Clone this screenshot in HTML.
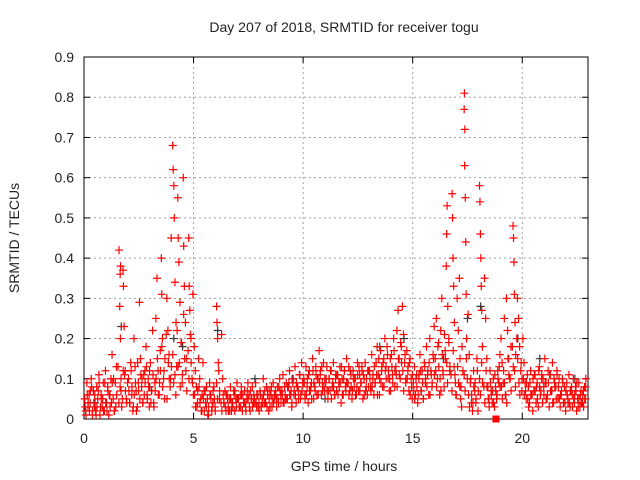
<!DOCTYPE html>
<html><head><meta charset="utf-8"><style>
html,body{margin:0;padding:0;background:#fff;}
svg{display:block;font-family:"Liberation Sans",sans-serif;}
</style></head><body>
<svg id="chart" width="640" height="480" viewBox="0 0 640 480" xmlns="http://www.w3.org/2000/svg">
<rect width="640" height="480" fill="#fff"/>
<text x="344" y="32" font-size="14" text-anchor="middle" fill="#222">Day 207 of 2018, SRMTID for receiver togu</text>
<text x="344" y="471" font-size="14" text-anchor="middle" fill="#222">GPS time / hours</text>
<text x="19" y="238" font-size="14" text-anchor="middle" fill="#222" transform="rotate(-90 19 238)">SRMTID / TECUs</text>
<g id="grid"></g>
<g id="axes"></g>
<g id="marks"></g>
</svg>
<script>
const xTicks=[0,5,10,15,20];
const yTicks=[0,0.1,0.2,0.3,0.4,0.5,0.6,0.7,0.8,0.9];
const yTickLabels=["0","0.1","0.2","0.3","0.4","0.5","0.6","0.7","0.8","0.9"];
const hours=[
0.03,0.08,0.13,0.18,0.23,0.28,0.33,0.38,0.43,0.48,
0.53,0.58,0.63,0.68,0.73,0.78,0.83,0.88,0.93,0.98,
1.03,1.08,1.13,1.18,1.23,1.28,1.33,1.38,1.43,1.48,
1.60,1.63,1.66,1.69,1.72,1.65,1.67,1.78,1.80,1.83,1.88,1.93,
2.03,2.08,2.13,2.18,2.23,2.28,2.33,2.38,2.43,2.48,
2.53,2.58,2.63,2.68,2.73,2.78,2.83,2.88,2.93,2.98,
3.03,3.08,3.13,3.18,3.23,3.28,3.33,3.38,3.43,3.48,
3.53,3.55,3.58,3.63,3.68,3.78,3.83,3.88,3.93,3.98,
4.05,4.07,4.10,4.12,4.15,4.20,4.23,4.28,4.30,4.33,4.38,4.43,4.48,
4.53,4.55,4.58,4.63,4.68,4.78,4.80,4.83,4.88,4.93,4.97,
5.03,5.08,5.13,5.18,5.23,5.28,5.33,5.38,5.43,5.48,
5.53,5.58,5.63,5.68,5.73,5.78,5.83,5.88,5.93,5.98,
6.05,6.07,6.10,6.13,6.18,6.28,6.33,6.38,6.43,6.48,
6.53,6.58,6.63,6.68,6.73,6.78,6.83,6.88,6.93,6.98,
7.03,7.08,7.13,7.18,7.23,7.28,7.33,7.38,7.43,7.48,
7.53,7.58,7.63,7.68,7.73,7.78,7.83,7.88,7.93,7.98,
8.03,8.08,8.13,8.18,8.23,8.28,8.33,8.38,8.43,8.48,
8.53,8.58,8.63,8.68,8.73,8.78,8.83,8.88,8.93,8.98,
9.03,9.08,9.13,9.18,9.23,9.28,9.33,9.38,9.43,9.48,
9.53,9.58,9.63,9.68,9.73,9.78,9.83,9.88,9.93,9.98,
10.03,10.08,10.13,10.18,10.23,10.28,10.33,10.38,10.43,10.48,
10.53,10.58,10.63,10.68,10.73,10.78,10.83,10.88,10.93,10.98,
11.03,11.08,11.13,11.18,11.23,11.28,11.33,11.38,11.43,11.48,
11.53,11.58,11.63,11.68,11.73,11.78,11.83,11.88,11.93,11.98,
12.03,12.08,12.13,12.18,12.23,12.28,12.33,12.38,12.43,12.48,
12.53,12.58,12.63,12.68,12.73,12.78,12.83,12.88,12.93,12.98,
13.03,13.08,13.13,13.18,13.23,13.28,13.33,13.38,13.43,13.48,
13.53,13.58,13.63,13.68,13.73,13.78,13.83,13.88,13.93,13.98,
14.03,14.08,14.13,14.18,14.23,14.28,14.33,14.38,14.43,14.48,
14.53,14.58,14.63,14.68,14.73,14.78,14.83,14.88,14.93,14.98,
15.03,15.08,15.13,15.18,15.23,15.28,15.33,15.38,15.43,15.48,
15.53,15.58,15.63,15.68,15.73,15.78,15.83,15.88,15.93,15.98,
16.03,16.08,16.13,16.18,16.23,16.28,16.33,16.38,16.43,16.48,
16.53,16.55,16.57,16.60,16.65,16.70,
16.80,16.82,16.84,16.87,16.90,16.93,16.97,
17.03,17.08,17.13,17.16,17.20,17.23,
17.36,17.35,17.38,17.37,17.40,17.42,17.44,17.46,
17.53,17.58,17.63,17.68,17.73,17.78,17.83,17.88,17.93,17.98,
18.05,18.07,18.09,18.11,18.13,18.15,18.18,
18.28,18.33,18.38,18.43,18.48,18.53,18.58,18.63,18.68,18.73,
18.78,18.83,18.88,18.93,18.98,19.03,19.08,19.13,19.18,19.23,
19.28,19.33,19.38,19.43,19.48,
19.58,19.60,19.62,19.64,19.67,19.70,
19.78,19.83,19.88,19.93,19.98,
20.03,20.08,20.13,20.18,20.23,20.28,20.33,20.38,20.43,20.48,
20.53,20.58,20.63,20.68,20.73,20.78,20.83,20.88,20.93,20.98,
21.03,21.08,21.13,21.18,21.23,21.28,21.33,21.38,21.43,21.48,
21.53,21.58,21.63,21.68,21.73,21.78,21.83,21.88,21.93,21.98,
22.03,22.08,22.13,22.18,22.23,22.28,22.33,22.38,22.43,22.48,
22.53,22.58,22.63,22.68,22.73,22.76,22.80,22.84,22.88,22.90
];
const tec=[
.05,.02,.09,.03,.06,.04,.10,.01,.07,.03,
.02,.08,.05,.11,.01,.06,.03,.09,.02,.12,
.04,.08,.01,.06,.10,.16,.05,.02,.09,.13,
.42,.28,.20,.07,.03,.36,.38,.37,.33,.23,.12,.05,
.10,.04,.14,.06,.02,.20,.13,.07,.03,.09,
.29,.15,.08,.04,.11,.12,.18,.06,.10,.03,
.14,.07,.22,.04,.09,.25,.35,.12,.06,.17,
.40,.31,.20,.10,.05,.30,.22,.16,.08,.45,
.68,.62,.58,.50,.34,.24,.13,.55,.45,.39,.29,.19,.09,
.60,.43,.33,.24,.15,.45,.33,.27,.20,.10,.31,
.18,.12,.08,.04,.15,.10,.05,.02,.14,.07,
.07,.03,.05,.01,.09,.06,.02,.04,.08,.03,
.28,.24,.20,.14,.05,.21,.10,.04,.07,.02,
.06,.03,.05,.08,.02,.04,.07,.02,.05,.09,
.05,.03,.06,.08,.02,.04,.07,.03,.05,.09,
.06,.02,.05,.08,.04,.05,.09,.03,.06,.04,
.07,.03,.05,.10,.04,.04,.08,.06,.02,.07,
.06,.03,.09,.05,.07,.05,.08,.04,.10,.06,
.07,.11,.04,.06,.09,.05,.08,.12,.06,.03,
.09,.06,.13,.04,.08,.07,.11,.05,.14,.09,
.10,.06,.13,.08,.04,.12,.07,.09,.15,.05,
.08,.13,.06,.10,.17,.11,.06,.09,.14,.07,
.09,.13,.05,.10,.07,.12,.08,.14,.06,.10,
.07,.11,.09,.13,.04,.10,.06,.12,.08,.15,
.09,.13,.07,.11,.05,.12,.08,.10,.06,.14,
.07,.11,.09,.13,.05,.10,.14,.08,.06,.12,
.12,.08,.16,.10,.06,.09,.14,.18,.11,.06,
.17,.12,.08,.15,.20,.13,.18,.10,.07,.15,
.16,.11,.20,.08,.13,.22,.27,.15,.10,.18,
.28,.21,.14,.09,.17,.12,.07,.15,.10,.05,
.09,.13,.06,.11,.04,.10,.16,.07,.12,.05,
.14,.09,.18,.11,.06,.20,.12,.08,.16,.23,
.15,.25,.10,.19,.06,.22,.30,.12,.08,.17,
.38,.46,.53,.28,.20,.13,
.56,.50,.40,.33,.24,.11,.06,
.30,.22,.35,.15,.08,.03,
.81,.77,.72,.63,.55,.44,.31,.20,
.26,.16,.09,.04,.02,.12,.07,.04,.15,.02,
.58,.54,.46,.40,.33,.27,.18,
.35,.25,.15,.08,.05,.12,.07,.04,.10,.03,
.08,.05,.12,.09,.16,.20,.14,.09,.25,.06,
.30,.22,.15,.10,.18,
.48,.45,.39,.31,.24,.16,
.30,.25,.18,.12,.07,
.20,.14,.09,.05,.11,.08,.04,.12,.06,.02,
.07,.11,.04,.09,.03,.13,.06,.10,.04,.08,
.15,.09,.05,.12,.03,.11,.07,.14,.04,.09,
.08,.12,.05,.10,.03,.06,.10,.04,.08,.02,
.09,.05,.11,.03,.07,.06,.10,.04,.08,.02,
.05,.09,.03,.07,.04,.06,.03,.08,.05,.10
];
const baseHours=[
0.05,0.15,0.25,0.35,0.45,0.55,0.65,0.75,0.85,0.95,
1.05,1.15,1.25,1.35,1.45,1.55,1.65,1.75,1.85,1.95,
2.05,2.15,2.25,2.35,2.45,2.55,2.65,2.75,2.85,2.95,
3.05,3.15,3.25,3.35,3.45,3.55,3.65,3.75,3.85,3.95,
4.05,4.15,4.25,4.35,4.45,4.55,4.65,4.75,4.85,4.95,
5.05,5.15,5.25,5.35,5.45,5.55,5.65,5.75,5.85,5.95,
6.05,6.15,6.25,6.35,6.45,6.55,6.65,6.75,6.85,6.95,
7.05,7.15,7.25,7.35,7.45,7.55,7.65,7.75,7.85,7.95,
8.05,8.15,8.25,8.35,8.45,8.55,8.65,8.75,8.85,8.95,
9.05,9.15,9.25,9.35,9.45,9.55,9.65,9.75,9.85,9.95,
10.05,10.15,10.25,10.35,10.45,10.55,10.65,10.75,10.85,10.95,
11.05,11.15,11.25,11.35,11.45,11.55,11.65,11.75,11.85,11.95,
12.05,12.15,12.25,12.35,12.45,12.55,12.65,12.75,12.85,12.95,
13.05,13.15,13.25,13.35,13.45,13.55,13.65,13.75,13.85,13.95,
14.05,14.15,14.25,14.35,14.45,14.55,14.65,14.75,14.85,14.95,
15.05,15.15,15.25,15.35,15.45,15.55,15.65,15.75,15.85,15.95,
16.05,16.15,16.25,16.35,16.45,16.55,16.65,16.75,16.85,16.95,
17.05,17.15,17.25,17.35,17.45,17.55,17.65,17.75,17.85,17.95,
18.05,18.15,18.25,18.35,18.45,18.55,18.65,18.75,18.85,18.95,
19.05,19.15,19.25,19.35,19.45,19.55,19.65,19.75,19.85,19.95,
20.05,20.15,20.25,20.35,20.45,20.55,20.65,20.75,20.85,20.95,
21.05,21.15,21.25,21.35,21.45,21.55,21.65,21.75,21.85,21.95,
22.05,22.15,22.25,22.35,22.45,22.55,22.65,22.75,22.85
];
const baseTecA=[
.03,.06,.02,.08,.04,.01,.07,.03,.05,.09,
.02,.06,.04,.10,.03,.13,.08,.05,.11,.04,
.07,.12,.03,.09,.14,.05,.10,.06,.13,.08,
.04,.11,.07,.15,.09,.18,.12,.21,.14,.10,
.16,.11,.22,.14,.19,.26,.12,.17,.21,.09,
.06,.03,.08,.02,.05,.04,.01,.06,.03,.05,
.09,.12,.04,.06,.03,.05,.02,.04,.06,.03,
.05,.03,.06,.04,.07,.03,.05,.06,.04,.03,
.06,.04,.07,.03,.05,.08,.04,.06,.05,.07,
.06,.08,.05,.09,.07,.10,.06,.08,.11,.07,
.09,.06,.11,.08,.12,.07,.10,.09,.13,.08,
.10,.07,.12,.09,.06,.11,.08,.13,.10,.07,
.09,.12,.07,.10,.08,.13,.09,.11,.07,.12,
.10,.08,.13,.11,.15,.09,.14,.12,.16,.10,
.13,.17,.11,.15,.19,.12,.16,.10,.14,.08,
.07,.10,.06,.12,.09,.13,.08,.14,.11,.15,
.12,.18,.10,.16,.21,.14,.19,.11,.17,.09,
.13,.08,.18,.11,.15,.06,.10,.04,.09,.12,
.10,.14,.08,.12,.05,.09,.07,.11,.06,.13,
.08,.12,.06,.15,.10,.18,.12,.20,.09,.14,
.10,.07,.05,.09,.06,.11,.08,.12,.07,.10,
.09,.06,.11,.07,.10,.05,.08,.06,.09,.04,
.06,.04,.08,.05,.07,.03,.06,.04,.05
];
const baseTecB=[
.01,.04,.07,.02,.06,.03,.09,.05,.02,.04,
.07,.03,.09,.02,.06,.04,.10,.12,.07,.09,
.04,.08,.06,.02,.07,.11,.04,.09,.05,.12,
.07,.03,.10,.06,.12,.08,.15,.05,.10,.13,
.09,.06,.13,.08,.11,.15,.07,.10,.14,.06,
.03,.07,.04,.06,.02,.08,.03,.05,.07,.02,
.05,.07,.02,.04,.06,.02,.05,.03,.07,.05,
.03,.06,.04,.02,.05,.07,.03,.04,.06,.02,
.03,.06,.04,.07,.03,.05,.06,.03,.08,.04,
.04,.05,.08,.06,.04,.07,.09,.05,.06,.09,
.05,.10,.07,.05,.09,.11,.06,.12,.07,.10,
.07,.10,.05,.08,.11,.06,.09,.06,.12,.09,
.06,.08,.10,.06,.11,.07,.12,.06,.10,.08,
.07,.11,.09,.06,.10,.13,.08,.10,.12,.07,
.09,.12,.08,.11,.14,.07,.10,.13,.06,.11,
.05,.08,.11,.07,.05,.10,.12,.06,.09,.11,
.08,.13,.07,.11,.15,.09,.12,.07,.13,.06,
.09,.05,.12,.07,.10,.03,.06,.08,.05,.07,
.06,.09,.04,.08,.03,.06,.04,.07,.10,.08,
.05,.09,.04,.11,.07,.13,.08,.15,.06,.10,
.06,.09,.03,.06,.10,.07,.05,.08,.11,.06,
.05,.09,.07,.04,.08,.11,.05,.07,.04,.07,
.04,.07,.03,.06,.09,.05,.04,.07,.08
];
const darkHours=[0.5,1.7,3.0,4.1,4.5,6.1,7.8,9.5,11.0,13.5,14.6,16.4,17.5,18.1,19.8,20.8,22.4];
const darkTec=[.04,.23,.08,.20,.18,.22,.10,.10,.05,.18,.20,.15,.25,.28,.20,.15,.10];
const flagHours=[18.8];
const flagTec=[0];

const L=84,R=588,T=57,B=419,XMIN=0,XMAX=23,YMIN=0,YMAX=0.9;
const sx=v=>L+(v-XMIN)/(XMAX-XMIN)*(R-L);
const sy=v=>B-(v-YMIN)/(YMAX-YMIN)*(B-T);
const NS="http://www.w3.org/2000/svg";
function mk(tag,attrs,parent){const e=document.createElementNS(NS,tag);for(const k in attrs)e.setAttribute(k,attrs[k]);parent.appendChild(e);return e;}
const grid=document.getElementById('grid'),axes=document.getElementById('axes'),marks=document.getElementById('marks');
xTicks.forEach(t=>{
  const x=sx(t);
  if(t>XMIN){
    const g=mk('line',{x1:x,x2:x,y1:T,y2:B,stroke:'#a0a0a0','stroke-dasharray':'2,3'},grid);
    
    
  }
  mk('line',{x1:x,x2:x,y1:B,y2:B-6,stroke:'#000'},axes);
  mk('line',{x1:x,x2:x,y1:T,y2:T+6,stroke:'#000'},axes);
  const lb=mk('text',{x:x,y:B+24,'font-size':14,'text-anchor':'middle',fill:'#222'},axes);
  lb.textContent=String(t);
  
  
});
yTicks.forEach((t,i)=>{
  const y=sy(t);
  if(t>YMIN&&t<YMAX){
    const g=mk('line',{x1:L,x2:R,y1:y,y2:y,stroke:'#a0a0a0','stroke-dasharray':'2,3'},grid);
    
    
  }
  mk('line',{x1:L,x2:L+6,y1:y,y2:y,stroke:'#000'},axes);
  mk('line',{x1:R,x2:R-6,y1:y,y2:y,stroke:'#000'},axes);
  const lb=mk('text',{x:L-10,y:y+5,'font-size':14,'text-anchor':'end',fill:'#222'},axes);
  lb.textContent=yTickLabels[i];
  
  
});
const frame=mk('rect',{x:L,y:T,width:R-L,height:B-T,fill:'none',stroke:'#000','stroke-width':1},axes);


function plus(h,v,color){
  const x=sx(h),y=sy(v);
  const p=mk('path',{d:`M${x-4},${y}H${x+4}M${x},${y-4}V${y+4}`,stroke:color,'stroke-width':1.2,fill:'none'},marks);
  
  
}
darkHours.forEach((h,i)=>plus(h,darkTec[i],'#333'));
baseHours.forEach((h,i)=>plus(h,baseTecA[i],'#ff0000'));
baseHours.forEach((h,i)=>plus(h+0.04,baseTecB[i],'#ff0000'));
hours.forEach((h,i)=>plus(h,tec[i],'#ff0000'));
flagHours.forEach((h,i)=>{
  const r=mk('rect',{x:sx(h)-3.5,y:sy(flagTec[i])-3.5,width:7,height:7,fill:'#ff0000'},marks);
  
  
});
</script>
</body></html>
